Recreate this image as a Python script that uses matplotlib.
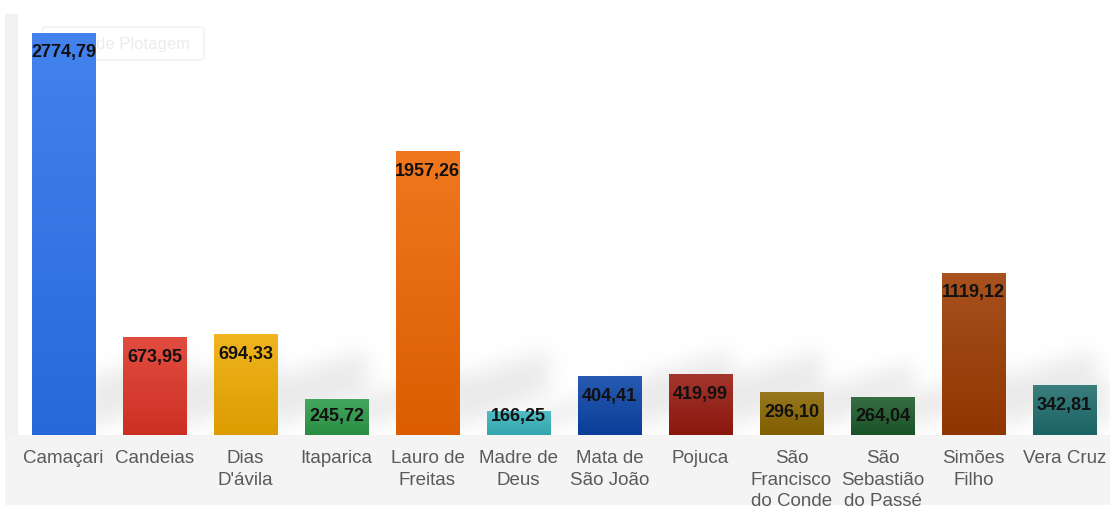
import matplotlib
matplotlib.use("Agg")
import matplotlib.pyplot as plt
import numpy as np
from matplotlib.colors import to_rgb
from matplotlib.path import Path
from matplotlib.patches import FancyBboxPatch, Rectangle

municipios = ["Camaçari", "Candeias", "Dias\nD'ávila", "Itaparica", "Lauro de\nFreitas",
              "Madre de\nDeus", "Mata de\nSão João", "Pojuca", "São\nFrancisco\ndo Conde",
              "São\nSebastião\ndo Passé", "Simões\nFilho", "Vera Cruz"]
valores = [2774.79, 673.95, 694.33, 245.72, 1957.26, 166.25, 404.41, 419.99,
           296.10, 264.04, 1119.12, 342.81]
cores = ["#2a72ec", "#de3426", "#eeaa00", "#2c9a48", "#ee6500", "#3ab4bc",
         "#0a44a6", "#961a10", "#8a6600", "#1d5a2b", "#9c3a00", "#1f6c6c"]

W, H = 1110, 507
AX_W, AX_H = W - 18, 435
fig = plt.figure(figsize=(W / 100, H / 100), dpi=100)
fig.patch.set_facecolor("white")

# faixas cinza de fundo
fig.patches.append(Rectangle((5 / W, 2 / H), 1 - 5 / W, 70 / H, transform=fig.transFigure,
                             facecolor="#f4f4f4", edgecolor="none", zorder=0))
fig.patches.append(Rectangle((5 / W, 72 / H), 13 / W, 421 / H, transform=fig.transFigure,
                             facecolor="#f1f1f1", edgecolor="none", zorder=0))

ax = fig.add_axes([18 / W, 72 / H, AX_W / W, AX_H / H])
ax.set_zorder(2)
ax.set_facecolor("white")
ytop = 3000
n = len(valores)

x = np.arange(n)
bars = ax.bar(x, valores, width=0.70, color=cores, edgecolor="none", zorder=3)
ax.set_xlim(-0.5, n - 0.5)
ax.set_ylim(0, ytop)

# sombra difusa inclinada atrás das barras
px_x = AX_W / n
px_y = AX_H / ytop
cols, rows = np.meshgrid(np.arange(AX_W) + 0.5, np.arange(AX_H) + 0.5)
pts = np.column_stack([cols.ravel(), rows.ravel()])
mask = np.zeros(AX_W * AX_H)
for rect in bars:
    xr = (rect.get_x() + rect.get_width() + 0.5) * px_x
    s = min(rect.get_height() * px_y, 55)
    poly = Path([(xr - 10, AX_H - 5), (xr - 10, AX_H - s), (xr + 90, AX_H - s - 30),
                 (xr + 90, AX_H - 42), (xr - 10, AX_H - 5)])
    mask = np.maximum(mask, poly.contains_points(pts).astype(float))
mask = mask.reshape(AX_H, AX_W)
k = np.exp(-0.5 * (np.arange(-30, 31) / 10.0) ** 2)
k /= k.sum()
mask = np.apply_along_axis(lambda r: np.convolve(r, k, mode="same"), 1, mask)
mask = np.apply_along_axis(lambda c: np.convolve(c, k, mode="same"), 0, mask)
sombra = np.zeros((AX_H, AX_W, 4))
sombra[..., :3] = 0.6
sombra[..., 3] = mask * 0.2
ax.imshow(sombra, extent=(-0.5, n - 0.5, 0, ytop), origin="upper", aspect="auto", zorder=2)

# gradiente vertical em cada barra (mais claro no topo)
for rect, cor in zip(bars, cores):
    c = np.array(to_rgb(cor))
    top = c + (1 - c) * 0.12
    bot = c * 0.92
    t = np.linspace(0, 1, 64)[:, None]
    grad = (bot * (1 - t) + top * t)[:, None, :]
    im = ax.imshow(grad, extent=(rect.get_x(), rect.get_x() + rect.get_width(), 0, rect.get_height()),
                   origin="lower", aspect="auto", zorder=4)
    im.set_clip_path(rect)

ax.set_xlim(-0.5, n - 0.5)
ax.set_ylim(0, ytop)

# rótulos de valor
for xi, v in zip(x, valores):
    ly = max(v - 20 / px_y, 19 / px_y)
    ax.text(xi, ly, f"{v:.2f}".replace(".", ","), ha="center", va="center",
            fontsize=13, fontweight="bold", family="Liberation Sans", color="#111111", zorder=6)

ax.set_xticks(x)
ax.set_xticklabels(municipios, fontsize=13.5, family="Liberation Sans", color="#5a5a5a",
                   linespacing=1.35, va="top")
ax.tick_params(axis="x", length=0, pad=11)
ax.set_yticks([])
for s in ax.spines.values():
    s.set_visible(False)

# caixa "Área de Plotagem" (quase invisível, atrás das barras)
ax.add_patch(FancyBboxPatch((42 / W, (H - 60) / H), 162 / W, 33 / H,
                            boxstyle="round,pad=0,rounding_size=0.005", transform=fig.transFigure,
                            facecolor="white", edgecolor="#f0f0f0", lw=1.0, zorder=1))
ax.text(123 / W, (H - 43) / H, "Área de Plotagem", ha="center", va="center", fontsize=12,
        color="#ececec", family="Liberation Sans", transform=fig.transFigure, zorder=2)

fig.savefig("out.png", dpi=100)
